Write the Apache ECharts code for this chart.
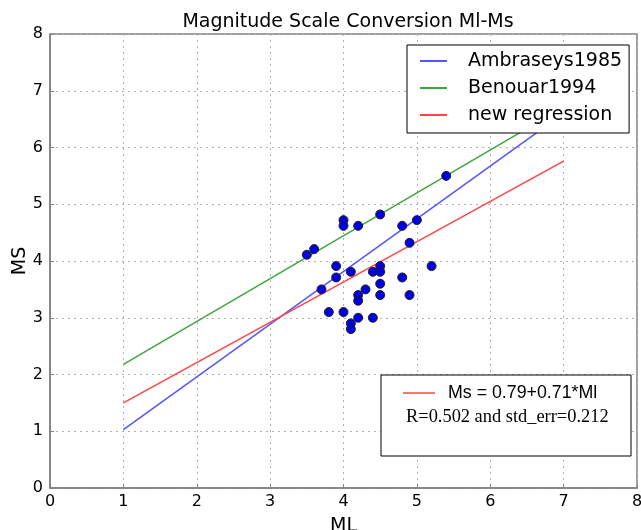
<!DOCTYPE html>
<html>
<head>
<meta charset="utf-8">
<script src="https://cdn.jsdelivr.net/npm/echarts@6/dist/echarts.min.js"></script>
<style>html,body{margin:0;padding:0;background:#fff}#c{width:641px;height:530px}</style>
</head>
<body>
<div id="c"></div>
<script>
const titleText = 'Magnitude Scale Conversion Ml-Ms';
const xTicks = [0,1,2,3,4,5,6,7,8];
const yTicks = [0,1,2,3,4,5,6,7,8];
const obsML = [5.4,4.0,4.0,4.2,4.5,4.8,5.0,3.5,3.6,3.9,3.9,4.1,3.7,4.9,5.2,4.8,4.4,4.5,4.5,4.5,4.5,4.3,4.2,4.2,4.9,3.8,4.0,4.2,4.4,4.1,4.1];
const obsMS = [5.5,4.72,4.62,4.62,4.82,4.62,4.72,4.11,4.21,3.91,3.71,3.81,3.5,4.32,3.91,3.71,3.81,3.91,3.81,3.6,3.4,3.5,3.4,3.3,3.4,3.1,3.1,3.0,3.0,2.9,2.8];
const lineML = [1,7];
const ambraseys = [1.03,6.6];
const benouar = [2.18,6.71];
const newReg = [1.5,5.76];
const seriesNames = ['Ambraseys1985','Benouar1994','new regression'];
const eqText = 'Ms = 0.79+0.71*Ml';
const statText = 'R=0.502 and std_err=0.212';

const pair = (xs, ys) => xs.map((x,i)=>[x, ys[i]]);
const chart = echarts.init(document.getElementById('c'));
const axisCommon = {
  type:'value', min:0, max:8, interval:1,
  axisLine:{show:true, lineStyle:{color:'#808080', width:1.5}},
  axisTick:{show:true, inside:true, length:4, lineStyle:{color:'#808080'}},
  axisLabel:{color:'#000', fontFamily:'DejaVu Sans', fontSize:16},
  splitLine:{show:true, lineStyle:{color:'#b0b0b0', type:[2,4], width:1}},
  nameMoveOverlap:false,
  nameTextStyle:{color:'#000', fontFamily:'DejaVu Sans', fontSize:19}
};
const lineSeries = (name, ys, color) => ({
  name, type:'line', data: pair(lineML, ys), symbol:'none', showSymbol:false,
  lineStyle:{color, width:1.5}, itemStyle:{color}, z:2, animation:false
});
chart.setOption({
  animation:false,
  title:{text:titleText, left:343, top:8, textAlign:'center',
    textStyle:{fontFamily:'DejaVu Sans', fontSize:19, fontWeight:'normal', color:'#000'}},
  grid:{left:50, right:4, top:34, bottom:42, outerBoundsMode:'none', containLabel:false,
    show:true, borderColor:'#808080', borderWidth:1.5, backgroundColor:'transparent'},
  xAxis:Object.assign({}, axisCommon, {name:'ML', nameLocation:'middle', nameGap:29,
    axisLabel:Object.assign({}, axisCommon.axisLabel, {margin:6})}),
  yAxis:Object.assign({}, axisCommon, {name:'MS', nameLocation:'middle', nameGap:20,
    axisLabel:Object.assign({}, axisCommon.axisLabel, {margin:7})}),
  legend:{
    data:seriesNames, orient:'vertical', left:407, top:45,
    backgroundColor:'#fff', borderColor:'#000', borderWidth:1, borderRadius:0,
    padding:[6,7,8,13], itemGap:7, itemWidth:27, itemHeight:2, icon:'rect',
    textStyle:{fontFamily:'DejaVu Sans', fontSize:19, color:'#000', padding:[0,0,0,16], lineHeight:20},
    selectedMode:false, z:10
  },
  series:[
    lineSeries(seriesNames[0], ambraseys, '#5555ff'),
    lineSeries(seriesNames[1], benouar, '#3ea63e'),
    lineSeries(seriesNames[2], newReg, '#ff4444'),
    {type:'scatter', data: pair(obsML, obsMS), symbol:'circle', symbolSize:9,
      itemStyle:{color:'#0000e0', borderColor:'#202020', borderWidth:1, opacity:1}, z:3}
  ],
  graphic:[
    {type:'rect', z:100, shape:{x:381, y:375, width:250, height:81}, style:{fill:'#fff', stroke:'#000', lineWidth:1}},
    {type:'line', z:101, shape:{x1:403, y1:393, x2:435, y2:393}, style:{stroke:'#ff4444', lineWidth:1.5}},
    {type:'text', z:101, x:448, y:393, style:{text:eqText, font:'17.8px "Liberation Sans"', fill:'#000', textVerticalAlign:'middle', verticalAlign:'middle'}},
    {type:'text', z:101, x:406, y:417, style:{text:statText, font:'18.4px "Liberation Serif"', fill:'#000', textVerticalAlign:'middle', verticalAlign:'middle'}}
  ]
});
</script>
</body>
</html>
